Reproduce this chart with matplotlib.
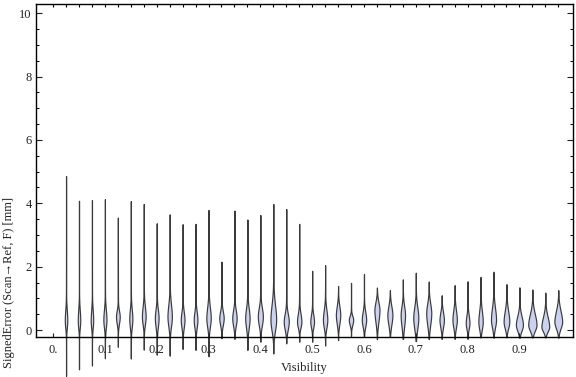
import numpy as np
import matplotlib
matplotlib.use('Agg')
import matplotlib.pyplot as plt

plt.rcParams['font.family'] = ['Liberation Serif', 'DejaVu Serif']
plt.rcParams['xtick.direction'] = 'in'
plt.rcParams['ytick.direction'] = 'in'

# one violin per visibility bin
visibility = np.round(np.arange(1, 40) * 0.025, 3)

err_max = [4.86, 4.08, 4.10, 4.13, 3.55, 4.07, 3.98, 3.37, 3.65, 3.34,
           3.35, 3.79, 2.16, 3.77, 3.49, 3.63, 3.98, 3.82, 3.35, 1.87,
           2.05, 1.39, 1.49, 1.77, 1.34, 1.26, 1.60, 1.81, 1.53, 1.10,
           1.42, 1.54, 1.68, 1.84, 1.45, 1.35, 1.28, 1.18, 1.26]
err_min = [-1.45, -1.24, -1.12, -0.89, -0.53, -0.90, -0.62, -0.78, -0.81, -0.60,
           -0.63, -0.83, -0.26, -0.28, -0.63, -0.37, -0.74, -0.42, -0.37, -0.37,
           -0.49, -0.32, -0.19, -0.21, -0.29, -0.22, -0.28, -0.35, -0.28, -0.28,
           -0.28, -0.28, -0.23, -0.24, -0.23, -0.24, -0.23, -0.23, -0.24]
# value where the violin is widest
err_mode = [0.30, 0.30, 0.30, 0.32, 0.42, 0.35, 0.42, 0.37, 0.42, 0.32,
            0.32, 0.37, 0.37, 0.37, 0.37, 0.42, 0.32, 0.26, 0.26, 0.26,
            0.32, 0.47, 0.32, 0.32, 0.63, 0.47, 0.47, 0.38, 0.53, 0.32,
            0.32, 0.22, 0.26, 0.32, 0.26, 0.16, 0.16, 0.10, 0.26]
# extent of the bulge around the mode
bulge_lo = [-0.10, -0.10, -0.10, -0.10, 0.05, -0.10, 0.00, -0.10, -0.10, -0.10,
            -0.10, -0.10, 0.00, -0.05, -0.16, -0.05, -0.26, -0.16, -0.05, -0.05,
            -0.10, 0.00, 0.05, -0.05, 0.00, -0.05, -0.16, -0.21, -0.10, -0.10,
            -0.10, -0.10, -0.16, -0.10, -0.10, -0.16, -0.16, -0.16, -0.10]
bulge_hi = [0.85, 0.85, 0.85, 0.85, 0.74, 0.85, 0.95, 0.84, 1.05, 0.74,
            0.74, 0.95, 0.74, 0.79, 0.89, 0.89, 1.10, 0.68, 0.68, 0.63,
            0.84, 0.95, 0.53, 0.74, 1.05, 0.95, 0.95, 0.95, 1.05, 0.74,
            0.84, 0.63, 0.84, 0.95, 0.84, 0.63, 0.74, 0.63, 0.84]
# widest point of each violin, in visibility units
peak_width = [0.0048, 0.0048, 0.0048, 0.0060, 0.0072, 0.0060, 0.0072, 0.0072, 0.0085, 0.0072,
              0.0072, 0.0085, 0.0085, 0.0085, 0.0085, 0.0098, 0.0110, 0.0098, 0.0085, 0.0072,
              0.0085, 0.0085, 0.0085, 0.0085, 0.0098, 0.0098, 0.0085, 0.0098, 0.0098, 0.0085,
              0.0085, 0.0072, 0.0085, 0.0098, 0.0110, 0.0136, 0.0160, 0.0150, 0.0150]

x_ticks = np.round(np.arange(0, 10) * 0.1, 1)
x_labels = ['0.'] + ['%.1f' % v for v in x_ticks[1:]]
top_ticks = np.round(np.arange(0, 40) * 0.025, 3)


def violin_stats(lo, hi, mode, b_lo, b_hi):
    y = np.linspace(lo, hi, 600)
    s = np.where(y < mode, (mode - b_lo) / 1.7, (b_hi - mode) / 1.7)
    bump = np.exp(-0.5 * ((y - mode) / s) ** 2)
    tail = np.where(y < mode, (y - lo) / (mode - lo), (hi - y) / (hi - mode))
    vals = bump + 0.10 * tail ** 1.5
    return dict(coords=y, vals=vals, mean=mode, median=mode, min=lo, max=hi)


stats = [violin_stats(*p) for p in zip(err_min, err_max, err_mode, bulge_lo, bulge_hi)]

fig = plt.figure(figsize=(5.76, 3.77), dpi=100)
ax = fig.add_axes([36 / 576, 1 - 337 / 377, 537.3 / 576, 333 / 377])

parts = ax.violin(stats, positions=visibility, widths=peak_width,
                  showextrema=False)
for b in parts['bodies']:
    b.set_facecolor('#cbd1f1')
    b.set_edgecolor('#3a3a3a')
    b.set_alpha(1)
    b.set_linewidth(0.85)
    b.set_clip_on(False)

ax.set_xlim(-0.033, 1.004)
ax.set_ylim(-0.22, 10.29)

ax.set_xticks(x_ticks)
ax.set_xticklabels(x_labels)
ax.tick_params(axis='x', which='both', direction='in', length=3, width=0.8,
               bottom=True, top=False, labelsize=9, pad=5, colors='#222222')
ax.set_yticks(np.arange(0, 11, 2))
ax.set_yticks(np.arange(0, 10.5, 0.5), minor=True)
ax.tick_params(axis='y', which='major', direction='in', length=4, width=0.8,
               right=True, labelsize=9, pad=3, colors='#222222')
ax.tick_params(axis='y', which='minor', direction='in', length=2.2, width=0.7,
               right=True)

# category ticks along the top frame
ax_top = ax.twiny()
ax_top.set_xlim(ax.get_xlim())
ax_top.set_xticks(top_ticks)
ax_top.tick_params(axis='x', direction='in', length=2.5, width=0.8,
                   top=True, bottom=False, labeltop=False, labelbottom=False)
for sp in ax_top.spines.values():
    sp.set_visible(False)

for sp in ax.spines.values():
    sp.set_linewidth(1.0)

fig.text(9 / 576, 1 - 282 / 377, 'SignedError (Scan\u2192Ref, F) [mm]',
         rotation=90, ha='center', va='center', fontsize=9, color='#222222')
fig.text(304 / 576, 1 - 368 / 377, 'Visibility', ha='center', va='center',
         fontsize=9, color='#222222')

fig.savefig('out.png', dpi=100)
